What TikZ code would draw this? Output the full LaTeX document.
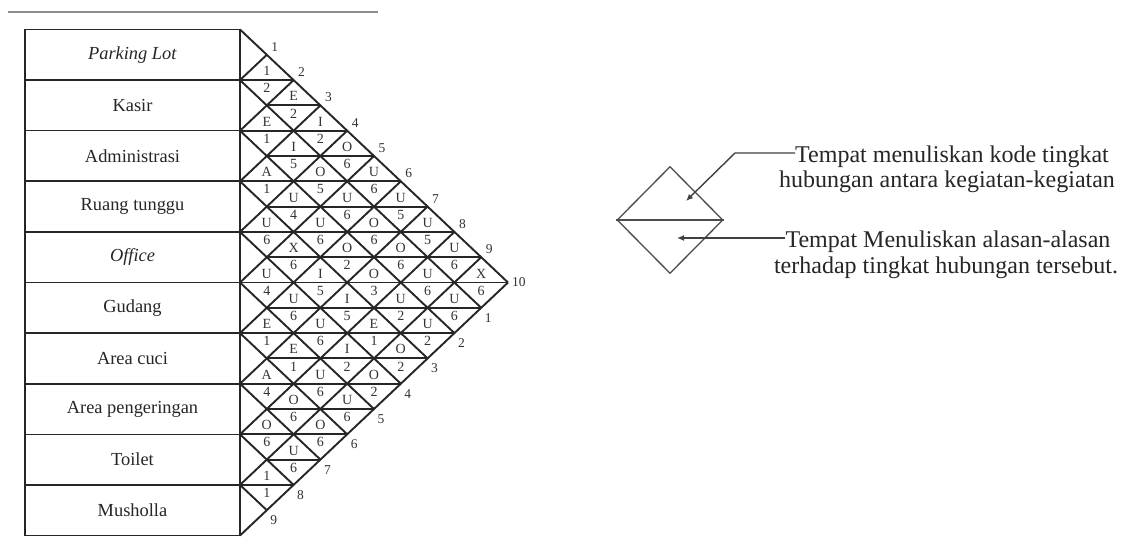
\documentclass[tikz,border=0pt]{standalone}
\usepackage{fontspec}
\setmainfont{Liberation Serif}
\usetikzlibrary{arrows.meta,shapes.geometric}
\begin{document}
\begin{tikzpicture}[x=1pt,y=-1pt,
  rowbox/.style={draw=black!85,line width=1.6pt,minimum width=215pt,minimum height=50.6pt,inner sep=0pt,font=\fontsize{18.4}{20}\selectfont,text=black!85},
  grid/.style={line width=1.9pt,black!85},
  code/.style={font=\fontsize{14}{15}\selectfont,inner sep=0pt,text=black!80},
  edgenum/.style={font=\fontsize{13.5}{15}\selectfont,inner sep=0pt,text=black!80},
  legtext/.style={font=\fontsize{24}{26}\selectfont,inner sep=0pt,text=black!85},
  legline/.style={line width=1.3pt,draw=black!70},
  arr/.style={line width=1.4pt,black!75,-{Latex[length=7pt,width=6pt]}}
]
\useasboundingbox (0,0) rectangle (1124,548);
\fill[white] (0,0) rectangle (1124,548);
\draw[line width=2pt,black!45] (8,12) -- (378,12);
\def\yO{29.5}\def\hh{50.6}\def\aa{26.8}\def\xO{240}
% row boxes
\foreach \t [count=\i] in {{\textit{Parking Lot}},Kasir,Administrasi,{Ruang tunggu},{\textit{Office}},Gudang,{Area cuci},{Area pengeringan},Toilet,Musholla}
  \node[rowbox] (row\i) at (132.5,{\yO+(\i-0.5)*\hh}) {\t};
% diagonals
\foreach \k in {0,...,9}
  \draw[grid] (\xO,{\yO+\k*\hh}) -- ({\xO+(10-\k)*\aa},{\yO+(\k+10)*\hh/2});
\foreach \k in {1,...,10}
  \draw[grid] (\xO,{\yO+\k*\hh}) -- ({\xO+\k*\aa},{\yO+\k*\hh/2});
% horizontals
\foreach \m in {2,...,18}{
  \pgfmathsetmacro\xs{\xO+\aa*mod(\m,2)}
  \pgfmathsetmacro\xe{\xO+\aa*min(\m,20-\m)}
  \draw[grid] (\xs,{\yO+\m*\hh/2}) -- (\xe,{\yO+\m*\hh/2});
}
% codes and reasons
\foreach \i/\j/\c/\r in {1/2/1/2,1/3/E/2,1/4/I/2,1/5/O/6,1/6/U/6,1/7/U/5,1/8/U/5,1/9/U/6,1/10/X/6,
  2/3/E/1,2/4/I/5,2/5/O/5,2/6/U/6,2/7/O/6,2/8/O/6,2/9/U/6,2/10/U/6,
  3/4/A/1,3/5/U/4,3/6/U/6,3/7/O/2,3/8/O/3,3/9/U/2,3/10/U/2,
  4/5/U/6,4/6/X/6,4/7/I/5,4/8/I/5,4/9/E/1,4/10/O/2,
  5/6/U/4,5/7/U/6,5/8/U/6,5/9/I/2,5/10/O/2,
  6/7/E/1,6/8/E/1,6/9/U/6,6/10/U/6,
  7/8/A/4,7/9/O/6,7/10/O/6,
  8/9/O/6,8/10/U/6,
  9/10/1/1}{
  \node[code] (t\i-\j) at ({\xO+(\j-\i)*\aa},{\yO+(\i+\j-1)*\hh/2-9}) {\c};
  \node[code] (b\i-\j) at ({\xO+(\j-\i)*\aa},{\yO+(\i+\j-1)*\hh/2+8}) {\r};
}
% edge numbers
\foreach \n in {1,...,9}{
  \node[edgenum] (en\n) at ({\xO+\n*\aa+8},{\yO+\n*\hh/2-8}) {\n};
  \node[edgenum] (es\n) at ({\xO+(10-\n)*\aa+7},{\yO+(10+\n)*\hh/2+10}) {\n};
}
\node[edgenum,anchor=west] (en10) at ({\xO+10*\aa+4},{\yO+5*\hh}) {10};
% legend
\node[diamond,legline,minimum width=106pt,minimum height=107pt,inner sep=0pt] (leg) at (670,220) {};
\draw[legline] (leg.west) -- (leg.east);
\coordinate (tipA) at (686,201);
\coordinate (bendA) at (735,0);
\coordinate (tipB) at (677,238);
\node[legtext] (t1) at (952,157) {Tempat menuliskan kode tingkat};
\node[legtext] (t2) at (947,182) {hubungan antara kegiatan-kegiatan};
\node[legtext] (t3) at (948,242) {Tempat Menuliskan alasan-alasan};
\node[legtext] (t4) at (946,268) {terhadap tingkat hubungan tersebut.};
\coordinate (s1) at ([yshift=4pt]t1.west);
\coordinate (s3) at ([yshift=4pt]t3.west);
\draw[arr] (s1) -- (s1 -| bendA) -- (tipA);
\draw[arr] (s3) -- (s3 -| tipB);
\end{tikzpicture}
\end{document}
